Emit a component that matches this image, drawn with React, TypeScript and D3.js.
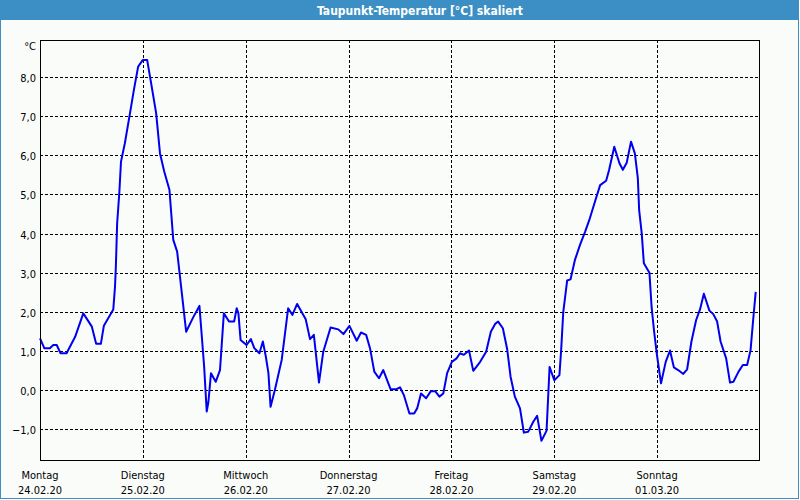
import React from "react";
import * as d3 from "d3";

const TITLE = "Taupunkt-Temperatur [°C] skaliert";
const UNIT = "°C";

// hours since Monday 24.02.20 00:00
const hours = [
  0, 1, 2.3, 3.1, 3.9, 4.8, 6.2, 8.2, 10.1, 12.1, 13.1, 14.2, 14.9, 17.1, 17.5, 17.7, 18.0, 18.5, 18.9, 19.8,
  21.0, 21.9, 22.9, 24.0, 25.0, 25.8, 27.1, 28.0, 29.0, 30.2, 31.1, 32.0, 33.1, 34.1, 35.8, 37.2, 37.7, 38.3,
  38.9, 39.3, 39.9, 41.0, 42.0, 42.9, 44.1, 45.3, 45.9, 46.3, 46.8, 48.2, 49.2, 50.0, 51.2, 52.0, 52.7, 53.3,
  53.8, 54.8, 56.4, 57.9, 58.9, 60.0, 62.0, 63.0, 63.9, 65.1, 66.1, 67.8, 69.6, 70.8, 72.2, 73.9, 74.9, 76.1,
  77.0, 78.0, 79.1, 80.1, 81.8, 83.2, 84.0, 84.9, 86.2, 87.3, 88.0, 88.9, 90.1, 91.2, 92.2, 93.2, 94.1, 95.0,
  96.1, 97.2, 98.0, 98.9, 100.1, 101.1, 102.7, 104.1, 105.2, 106.2, 106.9, 108.0, 109.0, 109.8, 110.8, 112.0,
  112.9, 113.9, 115.1, 116.0, 117.0, 118.2, 118.9, 120.0, 121.2, 121.6, 122.1, 123.0, 123.8, 124.8, 126.0,
  127.2, 128.3, 129.5, 130.7, 132.1, 132.8, 134.0, 135.2, 136.0, 136.9, 137.9, 138.8, 139.5, 139.8, 140.4,
  140.9, 142.2, 142.7, 143.3, 143.9, 144.9, 146.0, 147.0, 147.9, 148.9, 150.1, 151.0, 152.0, 153.1, 154.0,
  154.9, 156.2, 157.1, 158.0, 158.8, 160.1, 161.0, 161.8, 163.0, 164.0, 165.0, 165.8, 166.4, 167.0,
];

const dewPoint = [
  1.32, 1.07, 1.07, 1.15, 1.15, 0.94, 0.94, 1.36, 1.96, 1.62, 1.18, 1.18, 1.64, 2.06, 2.64, 3.15, 4.26, 5.03, 5.84, 6.31,
  7.08, 7.67, 8.27, 8.44, 8.44, 7.93, 7.08, 6.05, 5.58, 5.12, 3.84, 3.54, 2.47, 1.49, 1.87, 2.15, 1.45, 0.6,
  -0.55, -0.3, 0.43, 0.21, 0.51, 1.96, 1.75, 1.75, 2.09, 1.96, 1.28, 1.15, 1.3, 1.07, 0.94, 1.24, 0.85, 0.43,
  -0.43, 0.0, 0.77, 2.09, 1.92, 2.2, 1.81, 1.3, 1.41, 0.19, 0.98, 1.6, 1.55, 1.43, 1.64, 1.26, 1.47, 1.41,
  1.07, 0.47, 0.3, 0.51, 0.02, 0.02, 0.07, -0.13, -0.6, -0.6, -0.47, -0.09, -0.21, -0.03, -0.03, -0.17, -0.09, 0.43,
  0.72, 0.81, 0.94, 0.9, 1.01, 0.49, 0.72, 0.98, 1.49, 1.69, 1.75, 1.58, 1.05, 0.34, -0.17, -0.47,
  -1.09, -1.07, -0.81, -0.66, -1.3, -1.04, 0.59, 0.25, 0.38, 1.02, 2.0, 2.8, 2.83, 3.32, 3.71,
  4.05, 4.39, 4.82, 5.24, 5.35, 5.63, 6.22, 5.8, 5.63, 5.81, 6.35, 6.05, 5.41, 4.6, 4.01,
  3.24, 3.0, 2.13, 1.49, 0.94, 0.17, 0.72, 1.01, 0.58, 0.51, 0.41, 0.53, 1.24, 1.79, 2.06,
  2.46, 2.03, 1.94, 1.75, 1.24, 0.81, 0.19, 0.21, 0.47, 0.64, 0.64, 1.02, 1.79, 2.51,
];

const yTicks = [-1, 0, 1, 2, 3, 4, 5, 6, 7, 8];
const dayNames = ["Montag", "Dienstag", "Mittwoch", "Donnerstag", "Freitag", "Samstag", "Sonntag"];
const dayDates = ["24.02.20", "25.02.20", "26.02.20", "27.02.20", "28.02.20", "29.02.20", "01.03.20"];

const FONT = "'DejaVu Sans Condensed', 'DejaVu Sans', sans-serif";

export default function App() {
  const W = 800;
  const H = 500;
  const left = 40, right = 760, top = 40, bottom = 460;
  const start = new Date(2020, 1, 24, 0, 0, 0);
  const end = d3.timeDay.offset(start, 7);

  const x = d3.scaleTime().domain([start, end]).range([left, right]);
  const y = d3.scaleLinear().domain([-1.79, 8.95]).range([bottom, top]);

  const data = hours.map((h, i) => ({ t: new Date(start.getTime() + h * 3600 * 1000), v: dewPoint[i] }));
  const line = d3
    .line<{ t: Date; v: number }>()
    .x((d) => x(d.t))
    .y((d) => y(d.v));

  const days = dayNames.map((_, i) => d3.timeDay.offset(start, i));

  return (
    <svg
      width={W}
      height={H}
      style={{ position: "absolute", left: 0, top: 0, display: "block" }}
      fontFamily={FONT}
    >
      <rect x={0} y={0} width={W} height={H} fill="#fafcfa" />
      <rect x={0} y={0} width={799} height={20} fill="#3b8fc4" />
      <rect x={0.5} y={0.5} width={798} height={498} fill="none" stroke="#3b8fc4" strokeWidth={1} />
      <text x={420} y={15} textAnchor="middle" fill="#ffffff" fontWeight="bold" fontSize={12}>
        {TITLE}
      </text>

      {/* horizontal grid */}
      {yTicks.map((t) => (
        <line
          key={"h" + t}
          x1={left}
          x2={right}
          y1={Math.round(y(t)) + 0.5}
          y2={Math.round(y(t)) + 0.5}
          stroke="#000"
          strokeWidth={1}
          strokeDasharray="3,2"
          shapeRendering="crispEdges"
        />
      ))}
      {/* vertical grid */}
      {days.slice(1).map((d, i) => (
        <line
          key={"v" + i}
          x1={Math.round(x(d)) + 0.5}
          x2={Math.round(x(d)) + 0.5}
          y1={top}
          y2={bottom}
          stroke="#000"
          strokeWidth={1}
          strokeDasharray="3,2"
          shapeRendering="crispEdges"
        />
      ))}

      {/* y labels */}
      {yTicks.map((t) => (
        <text key={"yl" + t} x={36} y={y(t) + 5} textAnchor="end" fontSize={11} fill="#000">
          {d3.format(".1f")(t).replace(".", ",")}
        </text>
      ))}
      <text x={36} y={50} textAnchor="end" fontSize={11} fill="#000">
        {UNIT}
      </text>

      {/* x labels */}
      {days.map((d, i) => (
        <g key={"xl" + i}>
          <text x={x(d)} y={479} textAnchor="middle" fontSize={11} fill="#000">
            {dayNames[i]}
          </text>
          <text x={x(d)} y={494} textAnchor="middle" fontSize={11} fill="#000">
            {dayDates[i]}
          </text>
        </g>
      ))}

      <path d={line(data) || ""} fill="none" stroke="#0000ee" strokeWidth={2} strokeLinejoin="round" />

      <rect
        x={left + 0.5}
        y={top + 0.5}
        width={right - left - 1}
        height={bottom - top}
        fill="none"
        stroke="#000"
        strokeWidth={1}
        shapeRendering="crispEdges"
      />
    </svg>
  );
}
